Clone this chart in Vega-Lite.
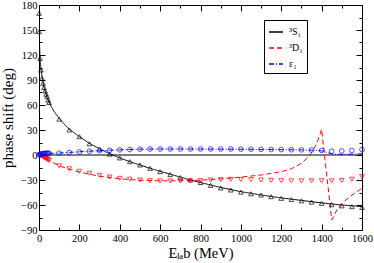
{
  "$schema": "https://vega.github.io/schema/vega-lite/v6.json",
  "width": 323,
  "height": 225,
  "autosize": {"type": "none"},
  "padding": {"left": 39, "top": 5, "right": 12, "bottom": 33},
  "background": "white",
  "config": {
    "view": {"stroke": "black", "strokeWidth": 1},
    "axis": {"grid": false, "domainColor": "black", "tickColor": "black", "labelColor": "black", "titleColor": "black", "labelFont": "Liberation Serif", "titleFont": "Liberation Serif", "labelFontSize": 10.5, "titleFontSize": 15, "titleFontWeight": "normal", "labelFlush": false, "labelOverlap": false},
    "legend": {"symbolType": "stroke", "symbolSize": 196, "labelFont": "Liberation Serif", "labelFontSize": 10, "labelColor": "black", "strokeColor": "black", "padding": 4, "fillColor": "white", "rowPadding": 3, "labelOffset": 5}
  },
  "datasets": {
    "lines": [
      {"s":"³S₁","E":0.3,"v":176},{"s":"³S₁","E":1,"v":150},{"s":"³S₁","E":2,"v":138},{"s":"³S₁","E":3,"v":130},{"s":"³S₁","E":5,"v":118},{"s":"³S₁","E":7.5,"v":109},{"s":"³S₁","E":10,"v":103},{"s":"³S₁","E":15,"v":94},{"s":"³S₁","E":20,"v":87},{"s":"³S₁","E":25,"v":81},{"s":"³S₁","E":30,"v":77},{"s":"³S₁","E":40,"v":69},{"s":"³S₁","E":50,"v":63},{"s":"³S₁","E":75,"v":52},{"s":"³S₁","E":100,"v":44},{"s":"³S₁","E":125,"v":37},{"s":"³S₁","E":150,"v":31},{"s":"³S₁","E":200,"v":22},{"s":"³S₁","E":250,"v":14},{"s":"³S₁","E":300,"v":7.5},{"s":"³S₁","E":350,"v":1.5},{"s":"³S₁","E":400,"v":-3.5},{"s":"³S₁","E":450,"v":-8},{"s":"³S₁","E":500,"v":-12},{"s":"³S₁","E":550,"v":-16},{"s":"³S₁","E":600,"v":-19.5},{"s":"³S₁","E":650,"v":-23},{"s":"³S₁","E":700,"v":-26.5},{"s":"³S₁","E":750,"v":-30},{"s":"³S₁","E":800,"v":-33},{"s":"³S₁","E":900,"v":-39},{"s":"³S₁","E":1000,"v":-44},{"s":"³S₁","E":1100,"v":-48},{"s":"³S₁","E":1200,"v":-51.5},{"s":"³S₁","E":1300,"v":-54.5},{"s":"³S₁","E":1400,"v":-57.5},{"s":"³S₁","E":1500,"v":-60},{"s":"³S₁","E":1600,"v":-62},
      {"s":"³D₁","E":0,"v":0},{"s":"³D₁","E":10,"v":-0.7},{"s":"³D₁","E":25,"v":-2.8},{"s":"³D₁","E":50,"v":-6.5},{"s":"³D₁","E":100,"v":-13},{"s":"³D₁","E":150,"v":-17},{"s":"³D₁","E":200,"v":-20.5},{"s":"³D₁","E":250,"v":-23},{"s":"³D₁","E":300,"v":-25.5},{"s":"³D₁","E":400,"v":-28.5},{"s":"³D₁","E":500,"v":-30.3},{"s":"³D₁","E":600,"v":-31},{"s":"³D₁","E":700,"v":-31},{"s":"³D₁","E":800,"v":-30.2},{"s":"³D₁","E":900,"v":-28.8},{"s":"³D₁","E":1000,"v":-26.5},{"s":"³D₁","E":1100,"v":-24},{"s":"³D₁","E":1200,"v":-20},{"s":"³D₁","E":1250,"v":-16.5},{"s":"³D₁","E":1300,"v":-10},{"s":"³D₁","E":1340,"v":-1},{"s":"³D₁","E":1370,"v":11},{"s":"³D₁","E":1390,"v":23},{"s":"³D₁","E":1400,"v":31},{"s":"³D₁","E":1450,"v":-78},{"s":"³D₁","E":1460,"v":-74},{"s":"³D₁","E":1475,"v":-66},{"s":"³D₁","E":1500,"v":-58},{"s":"³D₁","E":1550,"v":-48},{"s":"³D₁","E":1600,"v":-40},
      {"s":"ε₁","E":0,"v":0},{"s":"ε₁","E":5,"v":0.7},{"s":"ε₁","E":10,"v":1.1},{"s":"ε₁","E":25,"v":1.8},{"s":"ε₁","E":50,"v":2},{"s":"ε₁","E":100,"v":2.3},{"s":"ε₁","E":150,"v":3.1},{"s":"ε₁","E":200,"v":3.9},{"s":"ε₁","E":300,"v":5.2},{"s":"ε₁","E":400,"v":6.2},{"s":"ε₁","E":500,"v":7},{"s":"ε₁","E":600,"v":7.2},{"s":"ε₁","E":700,"v":7.2},{"s":"ε₁","E":800,"v":7.1},{"s":"ε₁","E":900,"v":7},{"s":"ε₁","E":1000,"v":6.9},{"s":"ε₁","E":1100,"v":6.7},{"s":"ε₁","E":1200,"v":6.4},{"s":"ε₁","E":1300,"v":6.1},{"s":"ε₁","E":1350,"v":5.8},{"s":"ε₁","E":1400,"v":5},{"s":"ε₁","E":1420,"v":3.5},{"s":"ε₁","E":1440,"v":2},{"s":"ε₁","E":1460,"v":1},{"s":"ε₁","E":1500,"v":0.8},{"s":"ε₁","E":1550,"v":1},{"s":"ε₁","E":1600,"v":1.5}
    ],
    "pts": [
      {"s":"S","E":0.5,"v":170},{"s":"S","E":1,"v":148},{"s":"S","E":5,"v":116},{"s":"S","E":10,"v":102},{"s":"S","E":15,"v":92},{"s":"S","E":20,"v":86},{"s":"S","E":25,"v":81},{"s":"S","E":30,"v":77},{"s":"S","E":35,"v":73},{"s":"S","E":40,"v":70},{"s":"S","E":45,"v":66},{"s":"S","E":50,"v":63},{"s":"S","E":100,"v":43},{"s":"S","E":150,"v":30},{"s":"S","E":200,"v":22},{"s":"S","E":250,"v":13.5},{"s":"S","E":300,"v":7},{"s":"S","E":350,"v":1},{"s":"S","E":400,"v":-3.5},{"s":"S","E":450,"v":-8},{"s":"S","E":500,"v":-12},{"s":"S","E":550,"v":-16},{"s":"S","E":600,"v":-20},{"s":"S","E":650,"v":-23.5},{"s":"S","E":700,"v":-27},{"s":"S","E":750,"v":-30},{"s":"S","E":800,"v":-33},{"s":"S","E":850,"v":-36.5},{"s":"S","E":900,"v":-39.5},{"s":"S","E":950,"v":-42},{"s":"S","E":1000,"v":-44.5},{"s":"S","E":1050,"v":-46.5},{"s":"S","E":1100,"v":-48},{"s":"S","E":1150,"v":-50},{"s":"S","E":1200,"v":-52},{"s":"S","E":1250,"v":-53.5},{"s":"S","E":1300,"v":-55},{"s":"S","E":1350,"v":-56.5},{"s":"S","E":1400,"v":-58},{"s":"S","E":1450,"v":-59.5},{"s":"S","E":1500,"v":-61},{"s":"S","E":1550,"v":-62},{"s":"S","E":1600,"v":-63},
      {"s":"D","E":1,"v":0},{"s":"D","E":5,"v":-0.2},{"s":"D","E":10,"v":-0.7},{"s":"D","E":15,"v":-1.3},{"s":"D","E":20,"v":-2},{"s":"D","E":25,"v":-2.8},{"s":"D","E":30,"v":-3.5},{"s":"D","E":35,"v":-4.2},{"s":"D","E":40,"v":-5},{"s":"D","E":45,"v":-5.7},{"s":"D","E":50,"v":-6.4},{"s":"D","E":100,"v":-13},{"s":"D","E":150,"v":-16.5},{"s":"D","E":200,"v":-19.5},{"s":"D","E":250,"v":-22},{"s":"D","E":300,"v":-24.5},{"s":"D","E":350,"v":-26.5},{"s":"D","E":400,"v":-28},{"s":"D","E":450,"v":-29},{"s":"D","E":500,"v":-30},{"s":"D","E":550,"v":-30.8},{"s":"D","E":600,"v":-31},{"s":"D","E":650,"v":-31.2},{"s":"D","E":700,"v":-31.2},{"s":"D","E":750,"v":-31},{"s":"D","E":800,"v":-30.8},{"s":"D","E":850,"v":-30},{"s":"D","E":900,"v":-29.5},{"s":"D","E":950,"v":-29.2},{"s":"D","E":1000,"v":-29.5},{"s":"D","E":1050,"v":-29.5},{"s":"D","E":1100,"v":-30},{"s":"D","E":1150,"v":-30.5},{"s":"D","E":1200,"v":-30.8},{"s":"D","E":1250,"v":-31},{"s":"D","E":1300,"v":-31},{"s":"D","E":1350,"v":-31},{"s":"D","E":1400,"v":-31},{"s":"D","E":1450,"v":-31},{"s":"D","E":1500,"v":-30.5},{"s":"D","E":1550,"v":-29},{"s":"D","E":1600,"v":-26},
      {"s":"e","E":1,"v":0.1},{"s":"e","E":5,"v":0.7},{"s":"e","E":10,"v":1.1},{"s":"e","E":15,"v":1.4},{"s":"e","E":20,"v":1.6},{"s":"e","E":25,"v":1.8},{"s":"e","E":30,"v":1.9},{"s":"e","E":35,"v":2},{"s":"e","E":40,"v":2},{"s":"e","E":45,"v":2},{"s":"e","E":50,"v":2},{"s":"e","E":100,"v":2.2},{"s":"e","E":150,"v":3},{"s":"e","E":200,"v":3.8},{"s":"e","E":250,"v":4.6},{"s":"e","E":300,"v":5.2},{"s":"e","E":350,"v":5.6},{"s":"e","E":400,"v":6.2},{"s":"e","E":450,"v":6.6},{"s":"e","E":500,"v":7},{"s":"e","E":550,"v":7.2},{"s":"e","E":600,"v":7.2},{"s":"e","E":650,"v":7.2},{"s":"e","E":700,"v":7.2},{"s":"e","E":750,"v":7.2},{"s":"e","E":800,"v":7.2},{"s":"e","E":850,"v":7.2},{"s":"e","E":900,"v":7.2},{"s":"e","E":950,"v":7.2},{"s":"e","E":1000,"v":7},{"s":"e","E":1050,"v":7},{"s":"e","E":1100,"v":6.8},{"s":"e","E":1150,"v":6.6},{"s":"e","E":1200,"v":6.5},{"s":"e","E":1250,"v":6.3},{"s":"e","E":1300,"v":6.2},{"s":"e","E":1350,"v":6},{"s":"e","E":1400,"v":5.5},{"s":"e","E":1450,"v":4.5},{"s":"e","E":1500,"v":4.8},{"s":"e","E":1550,"v":5.4},{"s":"e","E":1600,"v":6.5}
    ]
  },
  "layer": [
    {
      "data": {"values": [{}]},
      "mark": {"type": "rule", "color": "black", "strokeWidth": 1},
      "encoding": {"y": {"datum": 0, "type": "quantitative", "scale": {"domain": [-90, 180], "nice": false}, "axis": null}}
    },
    {
      "data": {"name": "lines"},
      "mark": {"type": "line", "strokeWidth": 1, "clip": true},
      "encoding": {
        "x": {"field": "E", "type": "quantitative", "scale": {"domain": [0, 1600], "nice": false},
          "axis": {"orient": "bottom", "values": [0,100,200,300,400,500,600,700,800,900,1000,1100,1200,1300,1400,1500,1600],
            "format": "d",
            "labelExpr": "datum.value % 200 === 0 ? datum.label : ''",
            "tickSize": {"condition": {"test": "datum.value % 200 === 0", "value": -6}, "value": -3},
            "labelPadding": 9, "title": "Eₗₐb (MeV)", "titlePadding": 0, "titleFontSize": 14.5}},
        "y": {"field": "v", "type": "quantitative", "scale": {"domain": [-90, 180], "nice": false},
          "axis": {"orient": "left", "values": [-90,-75,-60,-45,-30,-15,0,15,30,45,60,75,90,105,120,135,150,165,180],
            "format": "d",
            "labelExpr": "datum.value % 30 === 0 ? datum.label : ''",
            "tickSize": {"condition": {"test": "datum.value % 30 === 0", "value": -6}, "value": -3},
            "labelPadding": 8, "title": "phase shift (deg)", "titlePadding": 5}},
        "color": {"field": "s", "type": "nominal", "scale": {"domain": ["³S₁","³D₁","ε₁"], "range": ["black", "#ff0000", "#0000ff"]},
          "legend": {"orient": "none", "legendX": 225, "legendY": 15, "title": null}},
        "strokeDash": {"field": "s", "type": "nominal", "scale": {"domain": ["³S₁","³D₁","ε₁"], "range": [[1,0],[5,3],[5,2,1,2]]},
          "legend": {"orient": "none", "legendX": 225, "legendY": 15, "title": null}}
      }
    },
    {
      "data": {"name": "pts"},
      "transform": [{"filter": "datum.s === 'S'"}],
      "mark": {"type": "point", "shape": "triangle-up", "filled": false, "color": "black", "size": 22, "strokeWidth": 1},
      "encoding": {"x": {"field": "E", "type": "quantitative", "axis": null}, "y": {"field": "v", "type": "quantitative", "axis": null}}
    },
    {
      "data": {"name": "pts"},
      "transform": [{"filter": "datum.s === 'D'"}],
      "mark": {"type": "point", "shape": "triangle-down", "filled": false, "color": "#ff0000", "size": 22, "strokeWidth": 1},
      "encoding": {"x": {"field": "E", "type": "quantitative", "axis": null}, "y": {"field": "v", "type": "quantitative", "axis": null}}
    },
    {
      "data": {"name": "pts"},
      "transform": [{"filter": "datum.s === 'e'"}],
      "mark": {"type": "point", "shape": "circle", "filled": false, "color": "#0000ff", "size": 22, "strokeWidth": 1},
      "encoding": {"x": {"field": "E", "type": "quantitative", "axis": null}, "y": {"field": "v", "type": "quantitative", "axis": null}}
    },
    {
      "data": {"name": "pts"},
      "mark": {"type": "point", "opacity": 0},
      "encoding": {
        "x": {"field": "E", "type": "quantitative",
          "axis": {"orient": "top", "values": [0,100,200,300,400,500,600,700,800,900,1000,1100,1200,1300,1400,1500,1600], "labels": false, "title": null,
            "tickSize": {"condition": {"test": "datum.value % 200 === 0", "value": -6}, "value": -3}}},
        "y": {"field": "v", "type": "quantitative",
          "axis": {"orient": "right", "values": [-90,-75,-60,-45,-30,-15,0,15,30,45,60,75,90,105,120,135,150,165,180], "labels": false, "title": null,
            "tickSize": {"condition": {"test": "datum.value % 30 === 0", "value": -6}, "value": -3}}}
      }
    }
  ],
  "resolve": {"axis": {"x": "independent", "y": "independent"}}
}
